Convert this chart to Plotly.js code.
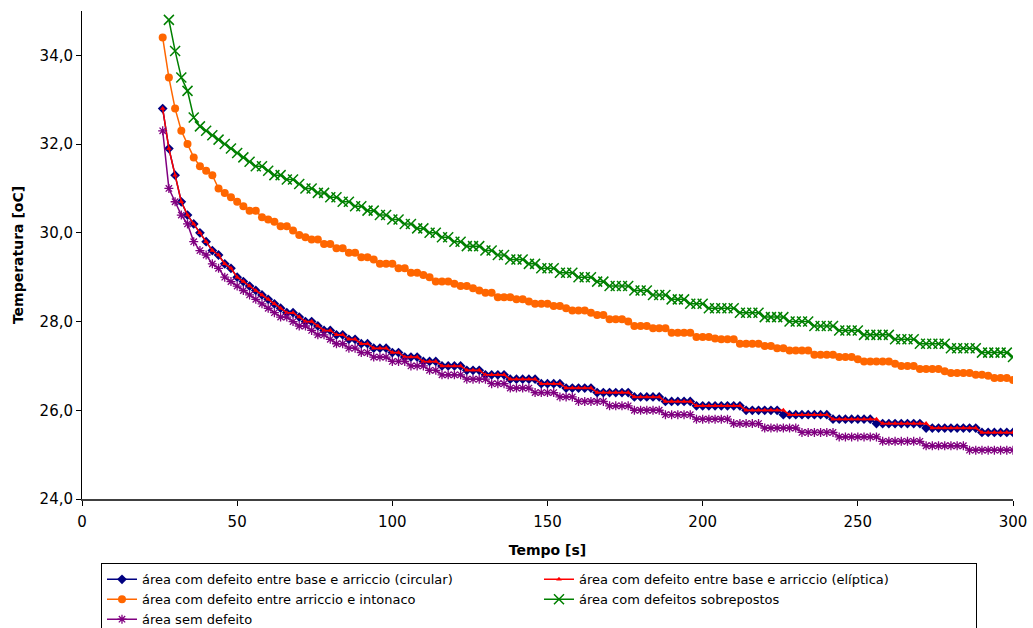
<!DOCTYPE html>
<html>
<head>
<meta charset="utf-8">
<script src="https://cdn.plot.ly/plotly-3.0.1.min.js"></script>
<style>html,body{margin:0;padding:0;background:#fff;}#chart{width:1033px;height:628px;}</style>
</head>
<body>
<div id="chart"></div>
<script>
var tempo = [26,28,30,32,34,36,38,40,42,44,46,48,50,52,54,56,58,60,62,64,66,68,70,72,74,76,78,80,82,84,86,88,90,92,94,96,98,100,102,104,106,108,110,112,114,116,118,120,122,124,126,128,130,132,134,136,138,140,142,144,146,148,150,152,154,156,158,160,162,164,166,168,170,172,174,176,178,180,182,184,186,188,190,192,194,196,198,200,202,204,206,208,210,212,214,216,218,220,222,224,226,228,230,232,234,236,238,240,242,244,246,248,250,252,254,256,258,260,262,264,266,268,270,272,274,276,278,280,282,284,286,288,290,292,294,296,298,300];
var tempoSobrepostos = [28,30,32,34,36,38,40,42,44,46,48,50,52,54,56,58,60,62,64,66,68,70,72,74,76,78,80,82,84,86,88,90,92,94,96,98,100,102,104,106,108,110,112,114,116,118,120,122,124,126,128,130,132,134,136,138,140,142,144,146,148,150,152,154,156,158,160,162,164,166,168,170,172,174,176,178,180,182,184,186,188,190,192,194,196,198,200,202,204,206,208,210,212,214,216,218,220,222,224,226,228,230,232,234,236,238,240,242,244,246,248,250,252,254,256,258,260,262,264,266,268,270,272,274,276,278,280,282,284,286,288,290,292,294,296,298,300];

var circular = [32.8,31.9,31.3,30.7,30.4,30.2,30.0,29.8,29.6,29.5,
29.3,29.2,29.0,28.9,28.8,28.7,28.6,28.5,28.4,28.3,
28.2,28.2,28.1,28.0,28.0,27.9,27.8,27.8,27.7,27.7,
27.6,27.6,27.5,27.5,27.4,27.4,27.4,27.3,27.3,27.2,
27.2,27.2,27.1,27.1,27.1,27.0,27.0,27.0,27.0,26.9,
26.9,26.9,26.8,26.8,26.8,26.8,26.7,26.7,26.7,26.7,
26.7,26.6,26.6,26.6,26.6,26.5,26.5,26.5,26.5,26.5,
26.4,26.4,26.4,26.4,26.4,26.4,26.3,26.3,26.3,26.3,
26.3,26.2,26.2,26.2,26.2,26.2,26.1,26.1,26.1,26.1,
26.1,26.1,26.1,26.1,26.0,26.0,26.0,26.0,26.0,26.0,
25.9,25.9,25.9,25.9,25.9,25.9,25.9,25.9,25.8,25.8,
25.8,25.8,25.8,25.8,25.8,25.7,25.7,25.7,25.7,25.7,
25.7,25.7,25.7,25.6,25.6,25.6,25.6,25.6,25.6,25.6,
25.6,25.6,25.5,25.5,25.5,25.5,25.5,25.5];

var eliptica = [32.8,31.9,31.3,30.7,30.4,30.2,30.0,29.8,29.6,29.5,
29.3,29.2,29.0,28.9,28.8,28.7,28.6,28.5,28.4,28.3,
28.2,28.2,28.1,28.0,28.0,27.9,27.8,27.8,27.7,27.7,
27.6,27.6,27.5,27.5,27.4,27.4,27.4,27.3,27.3,27.2,
27.2,27.2,27.1,27.1,27.1,27.0,27.0,27.0,27.0,26.9,
26.9,26.9,26.8,26.8,26.8,26.8,26.7,26.7,26.7,26.7,
26.7,26.6,26.6,26.6,26.6,26.5,26.5,26.5,26.5,26.5,
26.4,26.4,26.4,26.4,26.4,26.4,26.3,26.3,26.3,26.3,
26.3,26.2,26.2,26.2,26.2,26.2,26.1,26.1,26.1,26.1,
26.1,26.1,26.1,26.1,26.0,26.0,26.0,26.0,26.0,26.0,
26.0,25.9,25.9,25.9,25.9,25.9,25.9,25.9,25.8,25.8,
25.8,25.8,25.8,25.8,25.8,25.8,25.7,25.7,25.7,25.7,
25.7,25.7,25.7,25.7,25.6,25.6,25.6,25.6,25.6,25.6,
25.6,25.6,25.5,25.5,25.5,25.5,25.5,25.5];

var intonaco = [34.4,33.5,32.8,32.3,32.0,31.7,31.5,31.4,31.3,31.0,
30.9,30.8,30.7,30.6,30.5,30.5,30.35,30.3,30.25,30.15,
30.15,30.05,29.95,29.9,29.85,29.85,29.75,29.75,29.65,29.65,
29.55,29.55,29.45,29.45,29.4,29.3,29.3,29.3,29.2,29.2,
29.1,29.1,29.05,29.0,28.9,28.9,28.9,28.85,28.8,28.8,
28.75,28.7,28.65,28.65,28.55,28.55,28.55,28.5,28.5,28.45,
28.4,28.4,28.4,28.35,28.35,28.3,28.25,28.25,28.25,28.2,
28.15,28.15,28.05,28.05,28.05,28.0,27.9,27.9,27.9,27.85,
27.85,27.85,27.75,27.75,27.75,27.75,27.65,27.65,27.65,27.62,
27.6,27.6,27.6,27.5,27.5,27.5,27.5,27.45,27.45,27.4,
27.4,27.35,27.35,27.35,27.35,27.25,27.25,27.25,27.25,27.2,
27.2,27.2,27.15,27.1,27.1,27.1,27.1,27.1,27.05,27.0,
27.0,27.0,26.93,26.93,26.93,26.93,26.88,26.84,26.84,26.84,
26.84,26.8,26.8,26.78,26.73,26.73,26.73,26.68];

var sobrepostos = [34.8,34.1,33.5,33.2,32.6,32.4,32.3,32.2,32.1,32.0,
31.9,31.8,31.7,31.6,31.5,31.5,31.4,31.3,31.3,31.2,
31.2,31.1,31.0,31.0,30.9,30.9,30.8,30.8,30.7,30.7,
30.6,30.6,30.5,30.5,30.4,30.4,30.3,30.3,30.2,30.2,
30.1,30.1,30.0,30.0,29.9,29.9,29.8,29.8,29.7,29.7,
29.7,29.6,29.6,29.5,29.5,29.4,29.4,29.4,29.3,29.3,
29.2,29.2,29.2,29.1,29.1,29.1,29.0,29.0,29.0,28.9,
28.9,28.8,28.8,28.8,28.8,28.7,28.7,28.7,28.6,28.6,
28.6,28.5,28.5,28.5,28.4,28.4,28.4,28.3,28.3,28.3,
28.3,28.3,28.2,28.2,28.2,28.2,28.1,28.1,28.1,28.1,
28.0,28.0,28.0,28.0,27.9,27.9,27.9,27.9,27.8,27.8,
27.8,27.8,27.7,27.7,27.7,27.7,27.7,27.6,27.6,27.6,
27.6,27.5,27.5,27.5,27.5,27.5,27.4,27.4,27.4,27.4,
27.4,27.3,27.3,27.3,27.3,27.3,27.2];

var semDefeito = [32.3,31.0,30.7,30.4,30.2,29.8,29.6,29.5,29.3,29.2,
29.0,28.9,28.8,28.7,28.6,28.5,28.4,28.3,28.2,28.1,
28.1,28.0,27.9,27.9,27.8,27.7,27.7,27.6,27.5,27.5,
27.4,27.4,27.3,27.3,27.2,27.2,27.2,27.1,27.1,27.1,
27.0,27.0,27.0,26.9,26.9,26.8,26.8,26.8,26.8,26.7,
26.7,26.7,26.7,26.6,26.6,26.6,26.5,26.5,26.5,26.5,
26.4,26.4,26.4,26.4,26.3,26.3,26.3,26.2,26.2,26.2,
26.2,26.2,26.1,26.1,26.1,26.1,26.0,26.0,26.0,26.0,
26.0,25.9,25.9,25.9,25.9,25.9,25.8,25.8,25.8,25.8,
25.8,25.8,25.7,25.7,25.7,25.7,25.7,25.6,25.6,25.6,
25.6,25.6,25.6,25.5,25.5,25.5,25.5,25.5,25.5,25.4,
25.4,25.4,25.4,25.4,25.4,25.4,25.3,25.3,25.3,25.3,
25.3,25.3,25.3,25.2,25.2,25.2,25.2,25.2,25.2,25.2,
25.1,25.1,25.1,25.1,25.1,25.1,25.1,25.1];

var nomes = [
  'área com defeito entre base e arriccio (circular)',
  'área com defeito entre base e arriccio (elíptica)',
  'área com defeito entre arriccio e intonaco',
  'área com defeitos sobrepostos',
  'área sem defeito'
];
var cores = ['#000080', '#FF0000', '#FF6600', '#008000', '#800080'];

var FONT = '"DejaVu Sans", Arial, sans-serif';

var traces = [
  {x: tempo, y: circular, name: nomes[0], mode: 'lines+markers',
   line: {color: cores[0], width: 1.5},
   marker: {symbol: 'diamond', size: 7.5, color: cores[0]}},
  {x: tempo, y: eliptica, name: nomes[1], mode: 'lines+markers',
   line: {color: cores[1], width: 1.5},
   marker: {symbol: 'triangle-up', size: 5, color: cores[1]}},
  {x: tempo, y: intonaco, name: nomes[2], mode: 'lines+markers',
   line: {color: cores[2], width: 1.5},
   marker: {symbol: 'circle', size: 8, color: cores[2]}},
  {x: tempoSobrepostos, y: sobrepostos, name: nomes[3], mode: 'lines+markers',
   line: {color: cores[3], width: 1.5},
   marker: {symbol: 'x-thin-open', size: 10, color: cores[3], line: {width: 1.5, color: cores[3]}}},
  {x: tempo, y: semDefeito, name: nomes[4], mode: 'lines+markers',
   line: {color: cores[4], width: 1.5},
   marker: {symbol: 'asterisk-open', size: 7.5, color: cores[4], line: {width: 1.3, color: cores[4]}}}
];

var layout = {
  width: 1033, height: 628,
  margin: {l: 82, r: 20, t: 11, b: 128.5, pad: 0, autoexpand: false},
  paper_bgcolor: '#ffffff', plot_bgcolor: '#ffffff',
  separators: ',.',
  font: {family: FONT, size: 14, color: '#000'},
  showlegend: true,
  xaxis: {
    range: [0, 300], tick0: 0, dtick: 50,
    ticks: 'outside', ticklen: 5, tickcolor: '#000', tickwidth: 1,
    ticklabelstandoff: 3,
    showline: true, linecolor: '#404040', linewidth: 1.5,
    showgrid: false, zeroline: false, automargin: false,
    tickfont: {family: FONT, size: 15, color: '#000'},
    title: {text: '<b>Tempo [s]</b>', font: {family: FONT, size: 14, color: '#000'}, standoff: 15}
  },
  yaxis: {
    range: [24, 35], tick0: 24, dtick: 2, tickformat: '.1f',
    ticks: 'outside', ticklen: 5, tickcolor: '#000', tickwidth: 1,
    showline: true, linecolor: '#000', linewidth: 1,
    showgrid: false, zeroline: false, automargin: false,
    tickfont: {family: FONT, size: 15, color: '#000'},
    title: {text: '<b>Temperatura [oC]</b>', font: {family: FONT, size: 14, color: '#000'}, standoff: 12}
  },
  legend: {
    orientation: 'h', x: 0.0204, xanchor: 'left', y: -0.132, yanchor: 'top',
    bordercolor: '#000', borderwidth: 1, bgcolor: '#fff',
    font: {family: FONT, size: 13, color: '#000'},
    entrywidth: 392, entrywidthmode: 'pixels', itemwidth: 30, tracegroupgap: 0,
    traceorder: 'normal'
  }
};

Plotly.newPlot('chart', traces, layout, {displayModeBar: false, staticPlot: true});
</script>
</body>
</html>
